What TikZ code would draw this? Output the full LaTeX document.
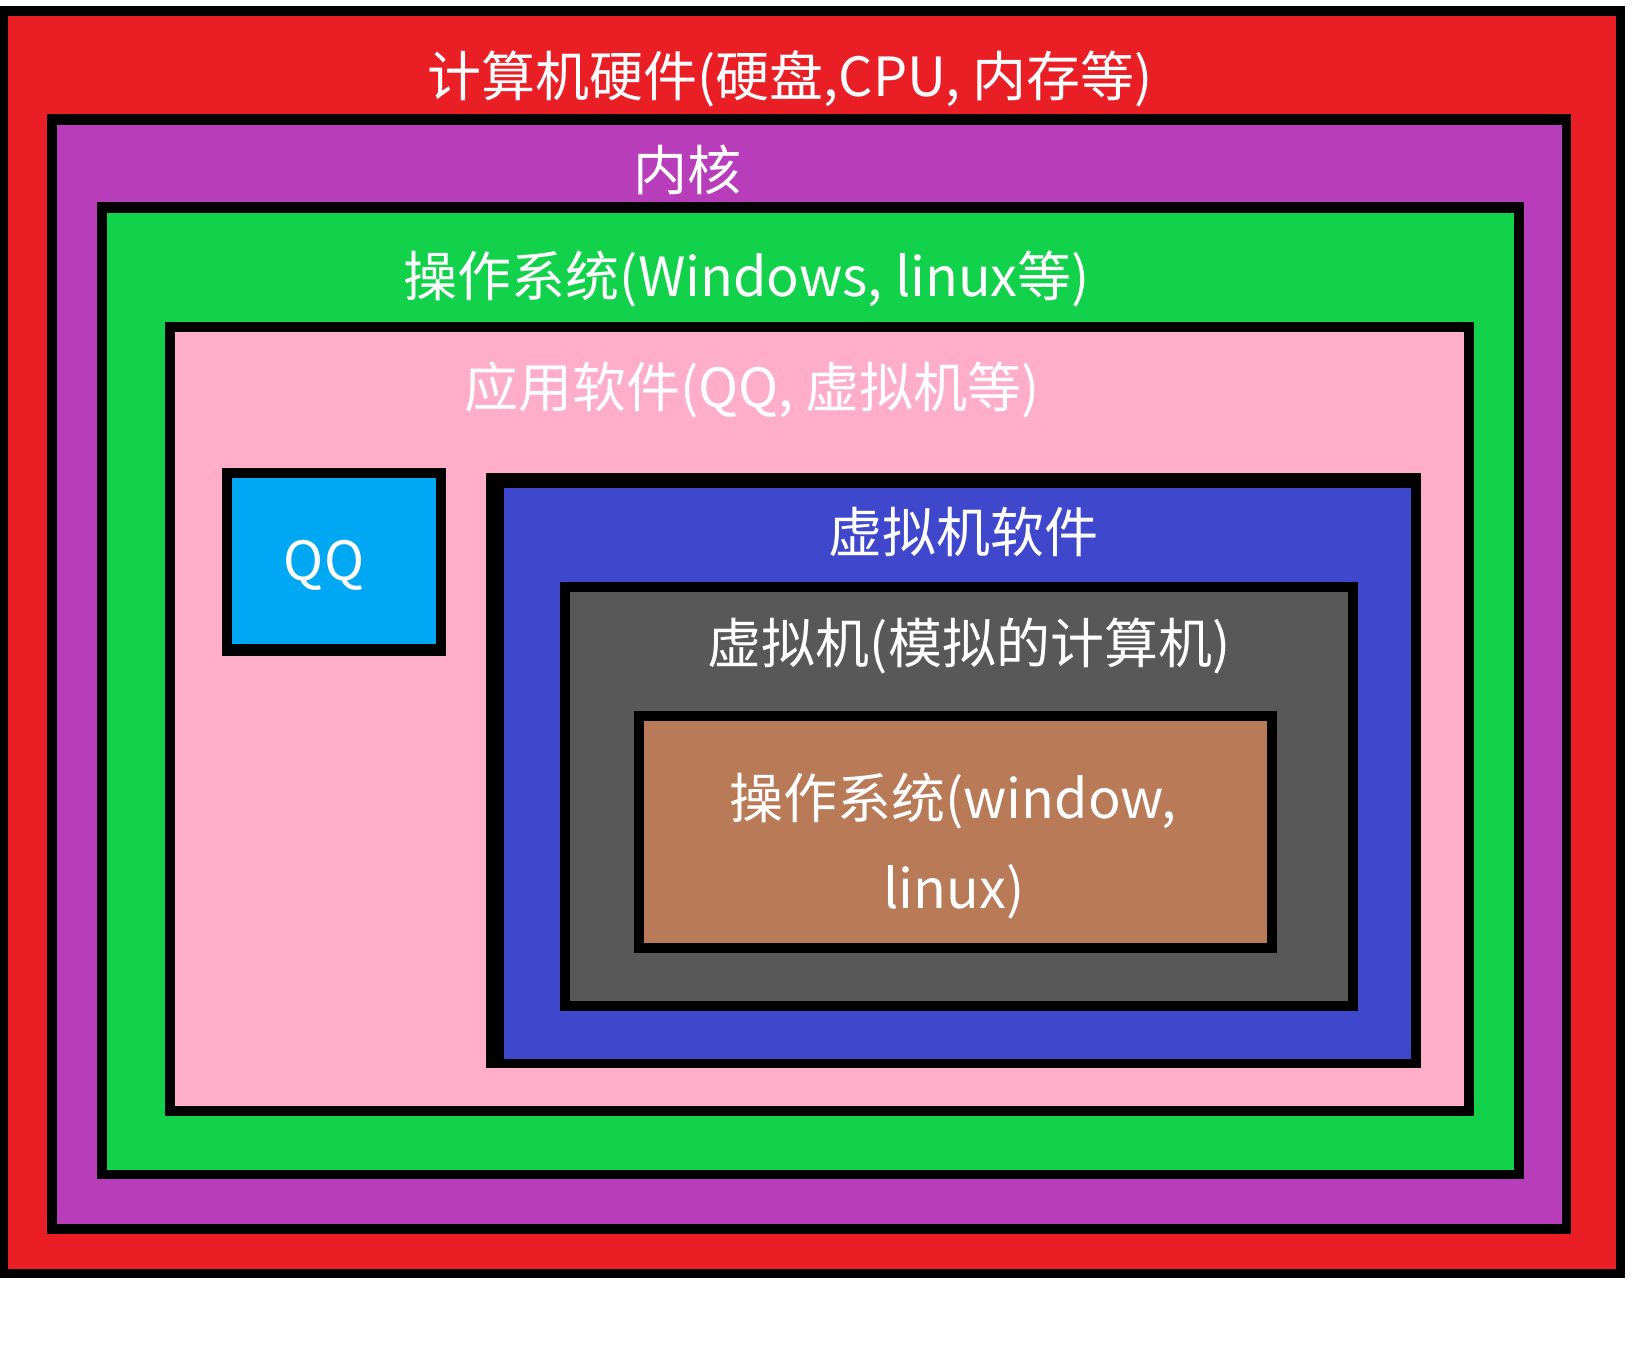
\documentclass[tikz,border=0pt]{standalone}
\usepackage{fontspec}
\newfontfamily\cjk{Noto Sans CJK SC}
\definecolor{hwred}{RGB}{234,30,37}
\definecolor{kpurple}{RGB}{184,61,186}
\definecolor{osgreen}{RGB}{18,209,74}
\definecolor{apink}{RGB}{255,174,201}
\definecolor{qqblue}{RGB}{0,168,243}
\definecolor{vmblue}{RGB}{63,72,204}
\definecolor{vmgray}{RGB}{88,88,88}
\definecolor{osbrown}{RGB}{185,122,87}
\tikzset{
  lbl/.style={text=white, inner sep=0pt, font=\cjk\fontsize{27}{31}\selectfont, anchor=center},
}
\begin{document}
\begin{tikzpicture}[x=0.5pt,y=-0.5pt]
\useasboundingbox[fill=white] (0,0) rectangle (1632,1368);
% red
\fill[black] (0,6) rectangle (1625,1278);
\fill[hwred] (8,16) rectangle (1616,1269);
% purple
\fill[black] (47,114) rectangle (1571,1234);
\fill[kpurple] (57,125) rectangle (1562,1224);
% green
\fill[black] (97,202) rectangle (1524,1179);
\fill[osgreen] (107,213) rectangle (1514,1170);
% pink
\fill[black] (165,322) rectangle (1474,1116);
\fill[apink] (175,332) rectangle (1464,1106);
% QQ
\fill[black] (222,468) rectangle (446,656);
\fill[qqblue] (232,478) rectangle (436,644);
% blue
\fill[black] (486,473) rectangle (1421,1068);
\fill[vmblue] (504,488) rectangle (1411,1059);
% gray
\fill[black] (560,582) rectangle (1358,1011);
\fill[vmgray] (570,592) rectangle (1348,1001);
% brown
\fill[black] (634,711) rectangle (1277,953);
\fill[osbrown] (644,721) rectangle (1267,943);
% labels
\node[lbl] (thw) at (790,79) {计算机硬件(硬盘,CPU, 内存等)};
\node[lbl] (tk) at (687,170) {内核};
\node[lbl] (tos) at (747,279) {操作系统(Windows, linux等)};
\node[lbl] (tapp) at (752,390) {应用软件(QQ, 虚拟机等)};
\node[lbl] (tqq) at (324,565) {QQ};
\node[lbl] (tvms) at (963,532) {虚拟机软件};
\node[lbl] (tvm) at (969,646) {虚拟机(模拟的计算机)};
\node[lbl] (tos2a) at (953,801) {操作系统(window,};
\node[lbl] (tos2b) at (954,892) {linux)};
\end{tikzpicture}
\end{document}
